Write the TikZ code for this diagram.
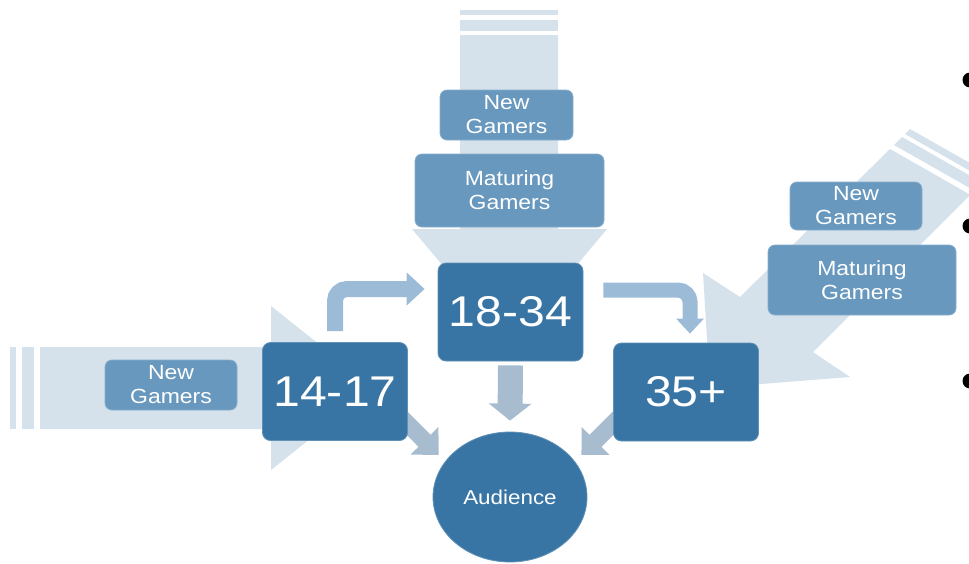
\documentclass[tikz,border=0pt]{standalone}
\usepackage{fontspec}
\setmainfont{Liberation Sans}
\newfontfamily\boxfont[FakeStretch=1.12]{Liberation Sans}
\usetikzlibrary{shapes.geometric,arrows.meta}

\definecolor{flowlight}{RGB}{213,225,235}
\definecolor{gamerfill}{RGB}{104,152,190}
\definecolor{agefill}{RGB}{56,117,164}
\definecolor{bendfill}{RGB}{155,187,214}
\definecolor{feedfill}{RGB}{168,188,208}

\pgfdeclarelayer{flowback}
\pgfdeclarelayer{flowmid}
\pgfsetlayers{flowback,flowmid,main}

\begin{document}
\begin{tikzpicture}[x=1pt,y=-1pt,
  agebox/.style={rectangle, rounded corners=8pt, fill=agefill, draw=agefill!80!white,
    line width=0.8pt, text=white, inner sep=0pt, minimum width=145pt, minimum height=98pt,
    font=\boxfont\fontsize{43}{50}\selectfont},
  audnode/.style={ellipse, fill=agefill, draw=agefill!80!white, line width=0.8pt,
    text=white, inner sep=0pt, minimum width=154pt, minimum height=130pt,
    font=\boxfont\fontsize{20}{24}\selectfont},
  gamerbox/.style={rectangle, rounded corners=7pt, fill=gamerfill, draw=gamerfill!80!white,
    line width=0.8pt, text=white, align=center, inner sep=0pt,
    font=\boxfont\fontsize{20.5}{24}\selectfont},
  bendflow/.style={draw=bendfill, rounded corners=12pt},
  feedflow/.style={draw=feedfill},
  bulletdot/.style={circle, fill=black, inner sep=0pt, minimum size=15pt}
]
\useasboundingbox (0,0) rectangle (969,563);

% age groups and the audience they feed
\node[agebox] (b1834) at (510.5,312) {18-34};
\node[agebox] (b1417) at (335,391.5) {14-17};
\node[agebox] (b35) at (686,392) {35+};
\node[audnode] (aud) at (510,497) {Audience};

% incoming gamer groups
\node[gamerbox, minimum width=133pt, minimum height=50pt] (ngT) at (506.5,115) {New\\Gamers};
\node[gamerbox, minimum width=189pt, minimum height=73pt] (mgT) at (509.5,190.5) {Maturing\\Gamers};
\node[gamerbox, minimum width=132pt, minimum height=50pt] (ngL) at (171,385) {New\\Gamers};
\node[gamerbox, minimum width=132pt, minimum height=48pt] (ngR) at (856,206) {New\\Gamers};
\node[gamerbox, minimum width=188pt, minimum height=70pt] (mgR) at (862,280) {Maturing\\Gamers};

% bullet column at the right edge
\node[bulletdot] (bu1) at (970,80) {};
\node[bulletdot] (bu2) at (970,226) {};
\node[bulletdot] (bu3) at (970,381) {};

% broad inflow arrows
\begin{pgfonlayer}{flowback}
  % from the top
  \fill[flowlight] (460,10) rectangle (558,15);
  \fill[flowlight] (460,20) rectangle (558,31);
  \fill[flowlight] (460,35) -- (558,35) -- (558,229) -- (607,229) -- (509.5,345)
    -- (412,229) -- (460,229) -- cycle;
  % from the left
  \fill[flowlight] (10,347) rectangle (16,429);
  \fill[flowlight] (22,347) rectangle (34,429);
  \fill[flowlight] (40,347) -- (271,347) -- (271,306) -- (374,388) -- (271,470)
    -- (271,429) -- (40,429) -- cycle;
  % from the upper right
  \fill[flowlight] (894,145) -- (902,137) -- (982.3,182.6) -- (974.3,190.6) -- cycle;
  \fill[flowlight] (905,134) -- (910,129) -- (990.3,174.6) -- (985.3,179.6) -- cycle;
  \fill[flowlight] (890,149) -- (740,297) -- (703,273) -- (710,388) -- (850,377)
    -- (813,352) -- (970.3,194.8) -- cycle;
\end{pgfonlayer}

% transitions between age groups and feeds into the audience
\begin{pgfonlayer}{flowmid}
  \draw[bendflow, line width=16pt, -{Triangle[width=32pt,length=18pt]}]
    ([yshift=11pt]b1417.north) |- ([xshift=-13pt,yshift=23pt]b1834.west);
  \draw[bendflow, line width=15pt, -{Triangle[width=27pt,length=15pt]}]
    ([xshift=20pt,yshift=22pt]b1834.east) -| ([xshift=4pt,yshift=9pt]b35.north);
  \draw[feedflow, line width=25pt, -{Triangle[width=42pt,length=17pt]}]
    ([yshift=-4pt]b1834.south) -- ([yshift=11pt]aud.north);
  \draw[feedflow, line width=17pt, -{Triangle[width=38pt,length=20pt]}]
    ([xshift=-9pt,yshift=26pt]b1417.south east) -- ([xshift=6pt,yshift=42pt]aud.west);
  \draw[feedflow, line width=17pt, -{Triangle[width=38pt,length=20pt]}]
    ([xshift=8pt,yshift=26pt]b35.south west) -- ([xshift=-6pt,yshift=42pt]aud.east);
\end{pgfonlayer}
\end{tikzpicture}
\end{document}
